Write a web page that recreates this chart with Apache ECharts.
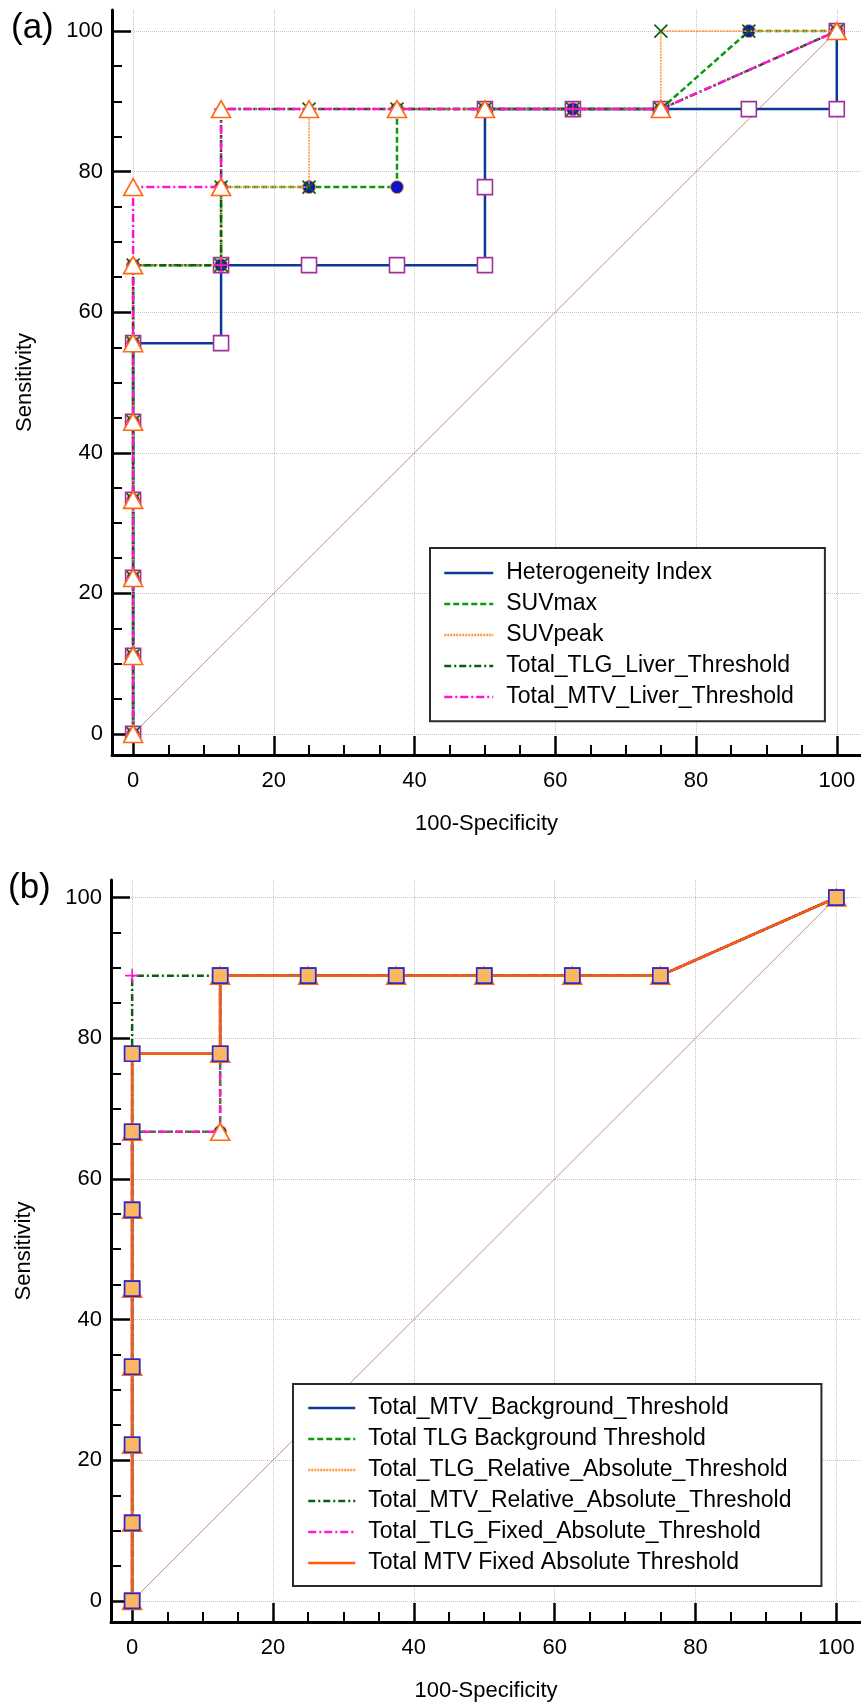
<!DOCTYPE html>
<html>
<head>
<meta charset="utf-8">
<script src="https://cdn.jsdelivr.net/npm/echarts@6.0.0/dist/echarts.min.js"></script>
<style>
html,body{margin:0;padding:0;background:#fff;}
#chart{width:861px;height:1703px;}
</style>
</head>
<body>
<div id="chart"></div>
<script>
// ---------- tick labels ----------
const axisTicks = [0, 20, 40, 60, 80, 100];

// ---------- panel (a) ----------
const aNames = ['Heterogeneity Index', 'SUVmax', 'SUVpeak', 'Total_TLG_Liver_Threshold', 'Total_MTV_Liver_Threshold'];

const aHI_x = [0, 0, 0, 0, 0, 0, 12.5, 12.5, 25, 37.5, 50, 50, 50, 62.5, 75, 87.5, 100, 100];
const aHI_y = [0, 11.1, 22.2, 33.3, 44.4, 55.6, 55.6, 66.7, 66.7, 66.7, 66.7, 77.8, 88.9, 88.9, 88.9, 88.9, 88.9, 100];

const aSUVmax_x = [0, 0, 0, 0, 0, 0, 0, 12.5, 12.5, 25, 37.5, 37.5, 50, 62.5, 75, 87.5, 100];
const aSUVmax_y = [0, 11.1, 22.2, 33.3, 44.4, 55.6, 66.7, 66.7, 77.8, 77.8, 77.8, 88.9, 88.9, 88.9, 88.9, 100, 100];

const aSUVpeak_x = [0, 0, 0, 0, 0, 0, 0, 12.5, 12.5, 25, 25, 37.5, 50, 62.5, 75, 75, 87.5, 100];
const aSUVpeak_y = [0, 11.1, 22.2, 33.3, 44.4, 55.6, 66.7, 66.7, 77.8, 77.8, 88.9, 88.9, 88.9, 88.9, 88.9, 100, 100, 100];

const aTLG_x = [0, 0, 0, 0, 0, 0, 0, 12.5, 12.5, 12.5, 25, 37.5, 50, 62.5, 75, 100];
const aTLG_y = [0, 11.1, 22.2, 33.3, 44.4, 55.6, 66.7, 66.7, 77.8, 88.9, 88.9, 88.9, 88.9, 88.9, 88.9, 100];

const aMTV_x = [0, 0, 0, 0, 0, 0, 0, 0, 12.5, 12.5, 25, 37.5, 50, 75, 100];
const aMTV_y = [0, 11.1, 22.2, 33.3, 44.4, 55.6, 66.7, 77.8, 77.8, 88.9, 88.9, 88.9, 88.9, 88.9, 100];

// ---------- panel (b) ----------
const bNames = ['Total_MTV_Background_Threshold', 'Total TLG Background Threshold', 'Total_TLG_Relative_Absolute_Threshold',
  'Total_MTV_Relative_Absolute_Threshold', 'Total_TLG_Fixed_Absolute_Threshold', 'Total MTV Fixed Absolute Threshold'];

const bMTVbg_x = [0, 0, 0, 0, 0, 0, 0, 0, 12.5, 12.5, 25, 37.5, 50, 62.5, 75, 100];
const bMTVbg_y = [0, 11.1, 22.2, 33.3, 44.4, 55.6, 66.7, 77.8, 77.8, 88.9, 88.9, 88.9, 88.9, 88.9, 88.9, 100];

const bTLGbg_x = [0, 0, 0, 0, 0, 0, 0, 12.5, 12.5, 12.5, 25, 37.5, 50, 62.5, 75, 100];
const bTLGbg_y = [0, 11.1, 22.2, 33.3, 44.4, 55.6, 66.7, 66.7, 77.8, 88.9, 88.9, 88.9, 88.9, 88.9, 88.9, 100];

const bTLGrel_x = [0, 0, 0, 0, 0, 0, 0, 0, 12.5, 12.5, 25, 37.5, 50, 62.5, 75, 100];
const bTLGrel_y = [0, 11.1, 22.2, 33.3, 44.4, 55.6, 66.7, 77.8, 77.8, 88.9, 88.9, 88.9, 88.9, 88.9, 88.9, 100];

const bMTVrel_x = [0, 0, 0, 0, 0, 0, 0, 0, 0, 12.5, 25, 37.5, 50, 62.5, 75, 100];
const bMTVrel_y = [0, 11.1, 22.2, 33.3, 44.4, 55.6, 66.7, 77.8, 88.9, 88.9, 88.9, 88.9, 88.9, 88.9, 88.9, 100];

const bTLGfix_x = [0, 0, 0, 0, 0, 0, 0, 12.5, 12.5, 12.5, 25, 37.5, 50, 62.5, 75, 100];
const bTLGfix_y = [0, 11.1, 22.2, 33.3, 44.4, 55.6, 66.7, 66.7, 77.8, 88.9, 88.9, 88.9, 88.9, 88.9, 88.9, 100];

const bMTVfix_x = [0, 0, 0, 0, 0, 0, 0, 0, 12.5, 12.5, 25, 37.5, 50, 62.5, 75, 100];
const bMTVfix_y = [0, 11.1, 22.2, 33.3, 44.4, 55.6, 66.7, 77.8, 77.8, 88.9, 88.9, 88.9, 88.9, 88.9, 88.9, 100];

// reference diagonal
const diag_x = [0, 100];
const diag_y = [0, 100];

// ---------- styles ----------
const FONT = 'Liberation Sans, Arial, Helvetica, sans-serif';
const lineStyles = [
  {color: '#0a3a94', width: 2.5, type: 'solid'},
  {color: '#0a9a0a', width: 2.5, type: [6, 3]},
  {color: '#ff9a40', width: 1.6, type: [2, 1]},
  {color: '#0b5e12', width: 2.5, type: [7, 3, 2, 3]},
  {color: '#ff14d2', width: 2.5, type: [8, 3, 2, 3]},
  {color: '#ff5a0a', width: 2.5, type: 'solid'}
];
const markers = [
  {symbol: 'rect', symbolSize: 15, itemStyle: {color: '#ffffff', borderColor: '#a0309e', borderWidth: 1.6}},
  {symbol: 'circle', symbolSize: 13, itemStyle: {color: '#0a14c8', borderColor: '#ffa020', borderWidth: 1}},
  {symbol: 'path://M0,0L10,10M10,0L0,10', symbolSize: 13, itemStyle: {color: 'none', borderColor: '#0b5e12', borderWidth: 1.6}},
  {symbol: 'path://M5,0L5,10M0,5L10,5', symbolSize: 14, itemStyle: {color: 'none', borderColor: '#ff14d2', borderWidth: 1.6}},
  {symbol: 'triangle', symbolSize: [19, 17], itemStyle: {color: '#ffffff', borderColor: '#ff6a10', borderWidth: 1.6}},
  {symbol: 'rect', symbolSize: 15, itemStyle: {color: '#fbb660', borderColor: '#2828d0', borderWidth: 1.6}}
];

function pairs(xs, ys) { return xs.map((x, i) => [x, ys[i]]); }

function mkSeries(name, xs, ys, gi, idx) {
  const m = markers[idx];
  return {
    type: 'line', name: name, xAxisIndex: gi, yAxisIndex: gi,
    data: pairs(xs, ys),
    symbol: m.symbol, symbolSize: m.symbolSize, itemStyle: m.itemStyle,
    showAllSymbol: true,
    lineStyle: lineStyles[idx],
    emphasis: {disabled: true},
    z: 3 + idx
  };
}
function mkDiag(gi) {
  return {
    type: 'line', xAxisIndex: gi, yAxisIndex: gi, data: pairs(diag_x, diag_y),
    symbol: 'none', silent: true, lineStyle: {color: '#c98c88', width: 1},
    emphasis: {disabled: true}, z: 2
  };
}

function xAxisDef(gi, maxV) {
  return {
    type: 'value', gridIndex: gi, min: -3, max: maxV, splitNumber: 5,
    name: '100-Specificity', nameLocation: 'middle', nameGap: 58,
    nameTextStyle: {fontSize: 22, color: '#000', fontFamily: FONT},
    axisLine: {show: true, onZero: false, lineStyle: {color: '#000', width: 3}},
    axisTick: {show: true, inside: true, length: 19, customValues: axisTicks, lineStyle: {color: '#000', width: 2.5}},
    minorTick: {show: true, splitNumber: 4, length: 10, lineStyle: {color: '#000', width: 2}},
    axisLabel: {customValues: axisTicks, margin: 15, fontSize: 22, color: '#000', fontFamily: FONT},
    splitLine: {show: true, lineStyle: {color: '#c4c4c4', width: 1, type: 'dotted'}}
  };
}
function yAxisDef(gi, maxV) {
  return {
    type: 'value', gridIndex: gi, min: -3, max: maxV, splitNumber: 5,
    name: 'Sensitivity', nameLocation: 'middle', nameGap: 76,
    nameTextStyle: {fontSize: 22, color: '#000', fontFamily: FONT},
    axisLine: {show: true, onZero: false, lineStyle: {color: '#000', width: 3}},
    axisTick: {show: true, inside: true, length: 19, customValues: axisTicks, lineStyle: {color: '#000', width: 2.5}},
    minorTick: {show: true, splitNumber: 4, length: 10, lineStyle: {color: '#000', width: 2}},
    axisLabel: {customValues: axisTicks, margin: 9, fontSize: 22, color: '#000', fontFamily: FONT},
    splitLine: {show: true, lineStyle: {color: '#c4c4c4', width: 1, type: 'dotted'}}
  };
}

function legendDef(names, left, top, padding, itemWidth) {
  return {
    data: names, orient: 'vertical', left: left, top: top,
    padding: padding, itemWidth: itemWidth, itemHeight: 14, itemGap: 8,
    backgroundColor: '#ffffff', borderColor: '#2a2a2a', borderWidth: 2,
    selectedMode: false,
    itemStyle: {opacity: 0, color: 'rgba(0,0,0,0)', borderColor: 'rgba(0,0,0,0)', borderWidth: 0},
    lineStyle: {width: 2.5},
    textStyle: {fontSize: 23, lineHeight: 23, color: '#000', fontFamily: FONT, padding: [0, 0, 0, 8]}
  };
}

const aX = [aHI_x, aSUVmax_x, aSUVpeak_x, aTLG_x, aMTV_x];
const aY = [aHI_y, aSUVmax_y, aSUVpeak_y, aTLG_y, aMTV_y];
const bX = [bMTVbg_x, bTLGbg_x, bTLGrel_x, bMTVrel_x, bTLGfix_x, bMTVfix_x];
const bY = [bMTVbg_y, bTLGbg_y, bTLGrel_y, bMTVrel_y, bTLGfix_y, bMTVfix_y];

const series = [mkDiag(0), mkDiag(1)];
aNames.forEach((n, i) => series.push(mkSeries(n, aX[i], aY[i], 0, i)));
bNames.forEach((n, i) => series.push(mkSeries(n, bX[i], bY[i], 1, i)));

const chart = echarts.init(document.getElementById('chart'), null, {renderer: 'canvas'});
chart.setOption({
  animation: false,
  backgroundColor: '#ffffff',
  textStyle: {fontFamily: FONT},
  grid: [
    {left: 112, top: 10, width: 749, height: 745},
    {left: 111, top: 880, width: 750, height: 742.7}
  ],
  xAxis: [xAxisDef(0, 103.44), xAxisDef(1, 103.5)],
  yAxis: [yAxisDef(0, 103), yAxisDef(1, 102.5)],
  legend: [
    legendDef(aNames, 430, 548, [13.5, 31, 12.7, 13], 49),
    legendDef(bNames, 293, 1384, [12.5, 30, 11.5, 14], 47)
  ],
  graphic: [
    {type: 'text', left: 11, top: 11, style: {text: '(a)', font: '35px ' + FONT, fill: '#000'}},
    {type: 'text', left: 8, top: 871, style: {text: '(b)', font: '35px ' + FONT, fill: '#000'}}
  ],
  series: series
});
</script>
</body>
</html>
